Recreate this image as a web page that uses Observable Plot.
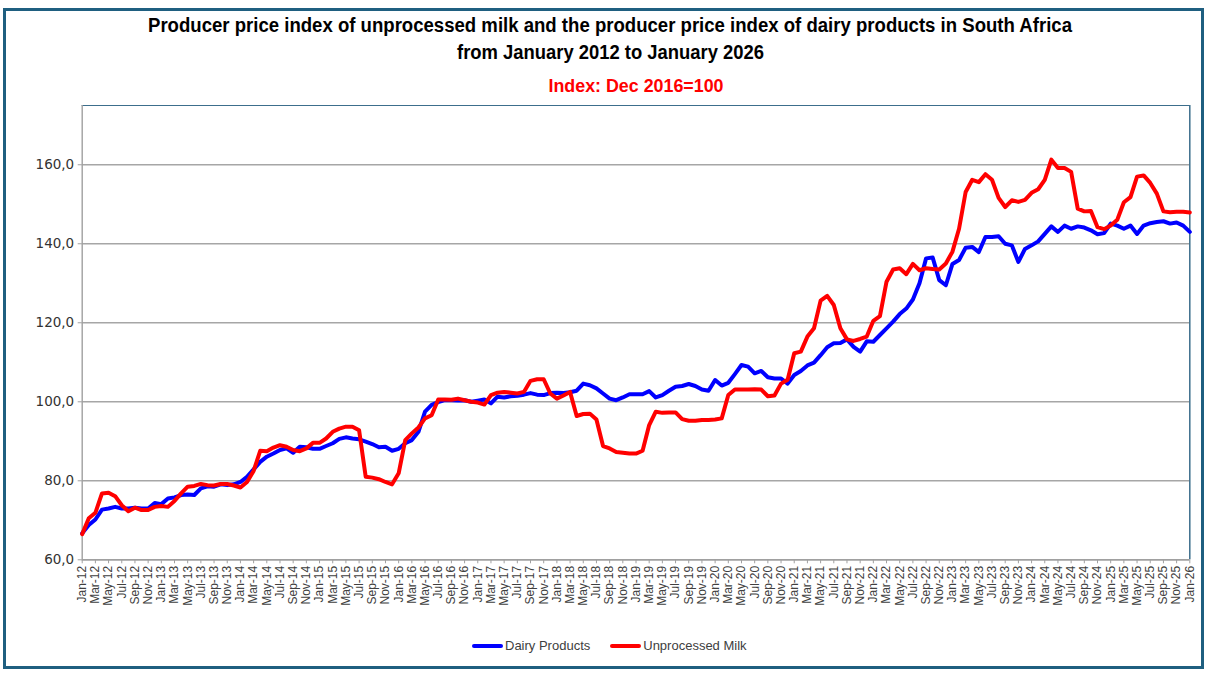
<!DOCTYPE html>
<html>
<head>
<meta charset="utf-8">
<script src="https://cdn.jsdelivr.net/npm/d3@7"></script>
<script src="https://cdn.jsdelivr.net/npm/@observablehq/plot@0.6"></script>
<style>
  html, body { margin: 0; padding: 0; background: #fff; }
  #wrap { position: relative; width: 1207px; height: 675px; overflow: hidden; background: #fff; }
  #frame { position: absolute; left: 3px; top: 8px; width: 1201px; height: 661px; box-sizing: border-box; border: 3px solid #1F5F80; pointer-events: none; }
  #titles { position: absolute; left: 0; top: 0; }
  #chart { position: absolute; left: 0; top: 0; }
  #legend { position: absolute; left: 472px; top: 638px; display: flex; align-items: center; font-family: "Liberation Sans", Arial, sans-serif; font-size: 13px; color: #404040; }
  .sw { display: inline-block; width: 31px; height: 4px; border-radius: 2px; margin-right: 2px; }
  .item { display: flex; align-items: center; }
</style>
</head>
<body>
<div id="wrap">
  <div id="chart"></div>
  <svg id="titles" width="1207" height="100" font-family="'Liberation Sans', Arial, sans-serif" font-weight="bold">
    <text id="t1" x="610" y="32" text-anchor="middle" font-size="19.5" fill="#000" textLength="924" lengthAdjust="spacingAndGlyphs"></text>
    <text id="t2" x="610.5" y="59" text-anchor="middle" font-size="19.5" fill="#000" textLength="307" lengthAdjust="spacingAndGlyphs"></text>
    <text id="t3" x="636" y="92" text-anchor="middle" font-size="18.5" fill="#FF0000" textLength="175" lengthAdjust="spacingAndGlyphs"></text>
  </svg>
  <div id="legend"></div>
  <div id="frame"></div>
</div>
<script>
// ---- Text ----
const titleLine1 = "Producer price index of unprocessed milk and the producer price index of dairy products in South Africa";
const titleLine2 = "from January 2012 to January 2026";
const subtitle = "Index: Dec 2016=100";
const seriesNames = ["Dairy Products", "Unprocessed Milk"];
const seriesColors = ["#0000FF", "#FF0000"];

// ---- Categories (monthly, Jan-12 .. Jan-26) ----
const monthNames = ["Jan","Feb","Mar","Apr","May","Jun","Jul","Aug","Sep","Oct","Nov","Dec"];
const years = [12,13,14,15,16,17,18,19,20,21,22,23,24,25,26];
const categories = [];
for (const y of years) for (const m of monthNames) {
  if (y === 26 && m !== "Jan") break;
  categories.push(m + "-" + y);
}
// tick labels shown every second month
const tickLabels = categories.filter((d, i) => i % 2 === 0);

// ---- Series values ----
const dairyProducts = [
  66.7, 68.8, 70.2, 72.7, 73.0, 73.4, 73.0, 73.0, 73.2, 73.0, 73.0, 74.4,
  74.1, 75.5, 75.8, 76.4, 76.5, 76.4, 78.1, 78.6, 78.5, 79.1, 78.9, 79.1,
  79.7, 81.0, 82.9, 84.8, 86.1, 86.9, 87.8, 88.2, 87.1, 88.6, 88.5, 88.1,
  88.1, 88.8, 89.5, 90.6, 91.0, 90.7, 90.5, 89.9, 89.3, 88.5, 88.6, 87.6,
  88.1, 89.5, 90.3, 92.4, 97.5, 99.2, 99.9, 100.4, 100.4, 100.3, 100.4, 100.0,
  100.3, 100.6, 99.6, 101.3, 101.1, 101.4, 101.5, 101.8, 102.2, 101.8, 101.7, 102.2,
  102.3, 102.2, 102.4, 102.8, 104.6, 104.2, 103.4, 102.1, 100.8, 100.4, 101.1, 101.9,
  101.9, 101.9, 102.7, 101.1, 101.7, 102.8, 103.8, 104.0, 104.5, 104.0, 103.1, 102.8,
  105.5, 104.1, 104.8, 107.0, 109.3, 108.9, 107.2, 107.8, 106.2, 105.9, 105.9, 104.6,
  106.8, 107.8, 109.2, 109.9, 111.8, 113.8, 114.8, 114.9, 115.8, 113.9, 112.7, 115.3,
  115.2, 116.9, 118.6, 120.3, 122.2, 123.6, 125.9, 130.0, 136.3, 136.5, 130.8, 129.5,
  134.9, 135.9, 139.0, 139.2, 137.9, 141.7, 141.7, 141.9, 140.0, 139.6, 135.4, 138.7,
  139.6, 140.6, 142.5, 144.4, 143.0, 144.6, 143.8, 144.4, 144.1, 143.4, 142.4, 142.7,
  145.1, 144.6, 143.8, 144.6, 142.5, 144.6, 145.2, 145.5, 145.7, 145.1, 145.4, 144.6,
  143.0
];
const unprocessedMilk = [
  66.5, 70.5, 71.9, 76.8, 77.0, 76.1, 73.8, 72.3, 73.2, 72.6, 72.6, 73.4,
  73.6, 73.4, 74.9, 76.8, 78.5, 78.7, 79.2, 78.9, 78.8, 79.2, 79.2, 78.8,
  78.3, 79.7, 82.5, 87.6, 87.5, 88.4, 89.0, 88.6, 87.8, 87.5, 88.2, 89.6,
  89.6, 90.7, 92.4, 93.2, 93.7, 93.7, 92.8, 81.0, 80.8, 80.4, 79.7, 79.1,
  81.9, 90.3, 92.0, 93.5, 95.8, 96.6, 100.6, 100.6, 100.5, 100.8, 100.4, 100.0,
  99.8, 99.3, 101.7, 102.3, 102.5, 102.3, 102.1, 102.5, 105.3, 105.7, 105.7, 102.1,
  100.8, 101.6, 102.5, 96.4, 96.9, 97.0, 95.5, 88.8, 88.2, 87.3, 87.1, 86.9,
  86.9, 87.6, 94.1, 97.5, 97.2, 97.3, 97.3, 95.6, 95.2, 95.2, 95.4, 95.4,
  95.5, 95.8, 101.7, 103.1, 103.1, 103.1, 103.2, 103.1, 101.4, 101.6, 104.6, 105.6,
  112.3, 112.7, 116.5, 118.6, 125.6, 126.8, 124.5, 118.6, 115.8, 115.4, 115.9, 116.5,
  120.5, 121.7, 130.4, 133.5, 133.8, 132.3, 134.9, 133.3, 133.8, 133.6, 133.5, 135.0,
  138.0, 143.8, 153.1, 156.2, 155.6, 157.6, 156.2, 151.6, 149.3, 151.0, 150.6, 151.1,
  152.9, 153.8, 156.2, 161.3, 159.2, 159.2, 158.2, 148.9, 148.2, 148.3, 144.2, 143.7,
  144.6, 146.1, 150.5, 151.8, 157.0, 157.3, 155.4, 152.7, 148.2, 148.0, 148.1, 148.1,
  147.9
];

// ---- Axis ----
const yDomain = [60, 175];
const yTicks = [60, 80, 100, 120, 140, 160];

// ---- Build table ----
const rows = [];
categories.forEach((c, i) => {
  rows.push({cat: c, value: dairyProducts[i], series: seriesNames[0]});
});
categories.forEach((c, i) => {
  rows.push({cat: c, value: unprocessedMilk[i], series: seriesNames[1]});
});

document.getElementById("t1").textContent = titleLine1;
document.getElementById("t2").textContent = titleLine2;
document.getElementById("t3").textContent = subtitle;

const H = 615;
const chart = Plot.plot({
  width: 1207,
  height: H,
  marginTop: 105,
  marginBottom: H - 559.3,
  marginLeft: 81.7,
  marginRight: 17.7,
  style: {background: "transparent", overflow: "visible"},
  x: {type: "point", domain: categories, padding: 0, label: null},
  y: {domain: yDomain, label: null},
  color: {domain: seriesNames, range: seriesColors},
  marks: [
    Plot.gridY({ticks: yTicks, stroke: "#A6A6A6", strokeOpacity: 1, strokeWidth: 1.4}),
    Plot.ruleY([yDomain[1]], {stroke: "#3C6E8C", strokeWidth: 1.2}),
    Plot.ruleX([categories[categories.length - 1]], {stroke: "#3C6E8C", strokeWidth: 1.5}),
    Plot.ruleX([categories[0]], {stroke: "#A0A0A0", strokeWidth: 1.4}),
    Plot.ruleY([yDomain[0]], {stroke: "#A0A0A0", strokeWidth: 1.4}),
    Plot.axisY({ticks: yTicks, tickFormat: d => d.toFixed(1).replace(".", ","), tickSize: 4, tickPadding: 4,
      stroke: "#A0A0A0", fontSize: 13.5, fontFamily: "'DejaVu Sans', Verdana, sans-serif", fill: "#333", label: null}),
    Plot.axisX({ticks: tickLabels, tickRotate: -90, tickSize: 4, tickPadding: 2,
      stroke: "#A0A0A0", fontSize: 12, fontFamily: "'Liberation Sans', Arial, sans-serif", fill: "#404040", label: null}),
    Plot.lineY(rows.filter(d => d.series === seriesNames[0]), {x: "cat", y: "value", stroke: "series", strokeWidth: 4, strokeLinejoin: "round", strokeLinecap: "round"}),
    Plot.lineY(rows.filter(d => d.series === seriesNames[1]), {x: "cat", y: "value", stroke: "series", strokeWidth: 4, strokeLinejoin: "round", strokeLinecap: "round"})
  ]
});
document.getElementById("chart").appendChild(chart);

// ---- Legend ----
const legend = document.getElementById("legend");
seriesNames.forEach((name, i) => {
  const item = document.createElement("span");
  item.className = "item";
  item.style.marginRight = i === 0 ? "20px" : "0";
  const sw = document.createElement("span");
  sw.className = "sw";
  sw.style.background = seriesColors[i];
  const lab = document.createElement("span");
  lab.textContent = name;
  item.appendChild(sw);
  item.appendChild(lab);
  legend.appendChild(item);
});
</script>
</body>
</html>
